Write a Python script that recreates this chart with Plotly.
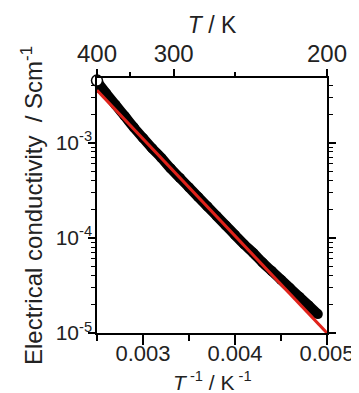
import plotly.graph_objects as go

# Data
inv_T = [0.00252, 0.00260, 0.00270, 0.00280, 0.00290, 0.00300, 0.00310, 0.00320,
         0.00330, 0.00340, 0.00350, 0.00360, 0.00370, 0.00380, 0.00390, 0.00400,
         0.00410, 0.00420, 0.00430, 0.00440, 0.00450, 0.00460, 0.00470, 0.00480,
         0.00490]
sigma = [4.17e-3, 3.31e-3, 2.51e-3, 1.91e-3, 1.45e-3, 1.12e-3, 8.71e-4, 6.92e-4,
         5.37e-4, 4.27e-4, 3.39e-4, 2.69e-4, 2.14e-4, 1.70e-4, 1.35e-4, 1.07e-4,
         8.51e-5, 6.92e-5, 5.50e-5, 4.47e-5, 3.63e-5, 2.95e-5, 2.40e-5, 1.95e-5,
         1.58e-5]
fit_x = [0.0025, 0.0050]
fit_y = [3.55e-3, 1.0e-5]
open_x = [0.0025]
open_y = [4.5e-3]

bottom_ticks = [0.003, 0.004, 0.005]
bottom_minor = [0.0025, 0.0035, 0.0045]
top_T = [400, 300, 200]
top_T_minor = [350, 250]
y_ticks = [1e-5, 1e-4, 1e-3]
y_labels = ["10<sup>-5</sup>", "10<sup>-4</sup>", "10<sup>-3</sup>"]
y_minor = [m * 10.0 ** e for e in (-5, -4, -3) for m in range(2, 10) if m * 10.0 ** e < 5.1e-3]

font = "Arial, Liberation Sans, Helvetica, sans-serif"
tc = "#222222"

fig = go.Figure()
fig.add_trace(go.Scatter(x=inv_T, y=sigma, mode="lines+markers",
                         line=dict(color="black", width=10, shape="spline"),
                         marker=dict(color="black", size=10),
                         showlegend=False))
fig.add_trace(go.Scatter(x=fit_x, y=fit_y, mode="lines",
                         line=dict(color="#e0231b", width=3),
                         showlegend=False, cliponaxis=False))
fig.add_trace(go.Scatter(x=open_x, y=open_y, mode="markers",
                         marker=dict(color="white", size=11,
                                     line=dict(color="black", width=1.5)),
                         showlegend=False, cliponaxis=False))
# dummy trace for top axis
fig.add_trace(go.Scatter(x=[1.0 / t for t in top_T], y=[1e-4] * 3, xaxis="x2",
                         mode="markers", marker=dict(opacity=0), showlegend=False,
                         hoverinfo="skip"))

fig.update_layout(
    width=359, height=393,
    margin=dict(l=89, r=31, t=70, b=68),
    paper_bgcolor="white", plot_bgcolor="white",
    font=dict(family=font, size=21, color=tc),
    xaxis=dict(range=[0.0025, 0.005], tickvals=bottom_ticks,
               ticktext=["0.003", "0.004", "0.005"],
               ticks="outside", ticklen=10, tickwidth=1.5, tickcolor="black",
               minor=dict(tickmode="array", tickvals=bottom_minor, ticks="outside",
                          ticklen=6, tickwidth=1.5, tickcolor="black"),
               showline=True, linecolor="black", linewidth=1.5, mirror=True,
               showgrid=False, zeroline=False, ticklabelstandoff=-10,
               tickfont=dict(size=22, color=tc)),
    xaxis2=dict(range=[0.0025, 0.005], overlaying="x", side="top",
                tickvals=[1.0 / t for t in top_T], ticktext=[str(t) for t in top_T],
                ticks="outside", ticklen=8, tickwidth=1.5, tickcolor="black",
                minor=dict(tickmode="array", tickvals=[1.0 / t for t in top_T_minor],
                           ticks="outside", ticklen=5, tickwidth=1.5, tickcolor="black"),
                showgrid=False, zeroline=False, showline=False,
                tickfont=dict(size=24, color=tc), ticklabelstandoff=-3,
                title=dict(text="<i>T</i> / K", font=dict(size=23, color=tc), standoff=0)),
    yaxis=dict(type="log", range=[-5, -2.32], tickvals=y_ticks, ticktext=y_labels,
               ticks="outside", ticklen=7, tickwidth=1.5, tickcolor="black",
               minor=dict(tickmode="array", tickvals=y_minor, ticks="outside",
                          ticklen=4, tickwidth=1.2, tickcolor="black"),
               showline=True, linecolor="black", linewidth=1.5, mirror="ticks",
               showgrid=False, zeroline=False, ticklabelstandoff=-8,
               tickfont=dict(size=21, color=tc),
               title=dict(text="Electrical conductivity  / Scm<sup>-1</sup>",
                          font=dict(size=24, color=tc), standoff=6)),
    annotations=[dict(text="<i>T</i><sup> -1</sup> / K<sup> -1</sup>",
                      xref="paper", yref="paper", x=0.5, y=-0.19,
                      xanchor="center", yanchor="middle", showarrow=False,
                      font=dict(size=21, color=tc))],
)

fig.write_html("out.html")
